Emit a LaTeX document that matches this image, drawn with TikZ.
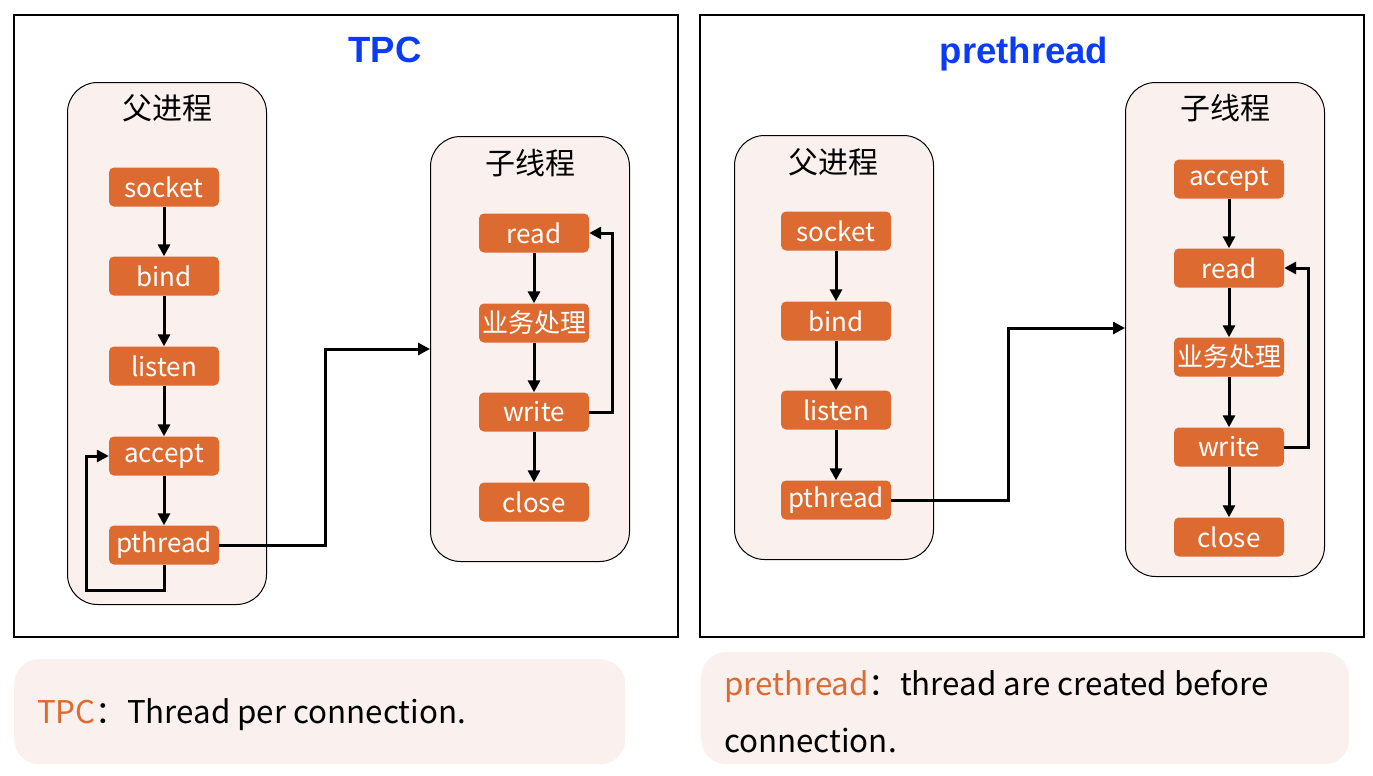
\documentclass[tikz,border=0pt]{standalone}
\usepackage{fontspec}
\setmainfont{Noto Sans CJK SC}
\newfontfamily\titlefont{Liberation Sans}
\usetikzlibrary{arrows.meta}
\definecolor{org}{HTML}{DD6A30}
\definecolor{pinkbg}{HTML}{FAF0EE}
\definecolor{ttl}{HTML}{0A3BF5}
\begin{document}
\begin{tikzpicture}[x=1pt,y=-1pt,
  frame/.style={draw, line width=2pt, minimum width=664pt, minimum height=622pt, anchor=north west, inner sep=0},
  cont/.style={draw, fill=pinkbg, rounded corners=30pt, line width=1pt, minimum width=199pt, inner sep=0, anchor=north west},
  op/.style={fill=org, rounded corners=5pt, minimum width=110pt, minimum height=39pt, text=white, font=\fontsize{26}{28}\selectfont, inner sep=0},
  ttlnode/.style={text=ttl, font=\titlefont\bfseries\fontsize{36.5}{40}\selectfont, inner sep=0},
  lbl/.style={font=\fontsize{30}{32}\selectfont, inner sep=0},
  note/.style={fill=pinkbg, rounded corners=25pt, inner sep=0, anchor=north west},
  notetext/.style={font=\fontsize{31.3}{57}\selectfont, inner sep=0, anchor=west, align=left},
  flow/.style={line width=3pt, -{Triangle[length=12pt,width=12pt]}}
]
\useasboundingbox (0,0) rectangle (1373,776);
\fill[white] (0,0) rectangle (1373,776);

% frames
\node[frame] (fl) at (13,14) {};
\node[frame] (fr) at (699,14) {};
\node[ttlnode] (tl) at (385,50) {TPC};
\node[ttlnode] (tr) at (1024,54) {prethread};

% ---------- left panel ----------
\node[cont, minimum height=522pt] (lp) at (67,82) {};
\node[lbl] (lpl) at (167,108) {父进程};
\node[op] (s1) at (164,187) {socket};
\node[op] (b1) at (164,276) {bind};
\node[op] (l1) at (164,366) {listen};
\node[op] (a1) at (164,456) {accept};
\node[op] (p1) at (164,545) {pthread};

\node[cont, minimum height=425pt] (lc) at (430,136) {};
\node[lbl] (lcl) at (530,163) {子线程};
\node[op] (r1) at (534,233) {read};
\node[op] (y1) at (534,323) {业务处理};
\node[op] (w1) at (534,412) {write};
\node[op] (c1) at (534,502) {close};

\draw[flow] (s1) -- (b1);
\draw[flow] (b1) -- (l1);
\draw[flow] (l1) -- (a1);
\draw[flow] (a1) -- (p1);
\coordinate (lb) at (86,590);
\draw[flow] (p1.south) |- (lb) |- (a1.west);
\coordinate (m1) at (325,349);
\draw[flow] (p1.east) -| (m1) -- (m1 -| lc.west);

\draw[flow] (r1) -- (y1);
\draw[flow] (y1) -- (w1);
\draw[flow] (w1) -- (c1);
\coordinate (lp1) at (612,233);
\draw[flow] (w1.east) -| (lp1) -- (r1.east);

% ---------- right panel ----------
\node[cont, minimum height=424pt] (rp) at (734,135) {};
\node[lbl] (rpl) at (833,162) {父进程};
\node[op] (s2) at (836,231) {socket};
\node[op] (b2) at (836,321) {bind};
\node[op] (l2) at (836,410) {listen};
\node[op] (p2) at (836,500) {pthread};

\node[cont, minimum height=494pt] (rc) at (1125,82) {};
\node[lbl] (rcl) at (1225,108) {子线程};
\node[op] (a2) at (1229,179) {accept};
\node[op] (r2) at (1229,268) {read};
\node[op] (y2) at (1229,357) {业务处理};
\node[op] (w2) at (1229,447) {write};
\node[op] (c2) at (1229,537) {close};

\draw[flow] (s2) -- (b2);
\draw[flow] (b2) -- (l2);
\draw[flow] (l2) -- (p2);
\coordinate (m2) at (1008,328);
\draw[flow] (p2.east) -| (m2) -- (m2 -| rc.west);

\draw[flow] (a2) -- (r2);
\draw[flow] (r2) -- (y2);
\draw[flow] (y2) -- (w2);
\draw[flow] (w2) -- (c2);
\coordinate (lp2) at (1308,268);
\draw[flow] (w2.east) -| (lp2) -- (r2.east);

% ---------- notes ----------
\node[note, minimum width=611pt, minimum height=105pt] (n1) at (14,659) {};
\node[notetext] (n1t) at (37,715) {\textcolor{org}{TPC}：Thread per connection.};
\node[note, minimum width=648pt, minimum height=112pt] (n2) at (701,652) {};
\node[notetext] (n2t) at (724,712) {\textcolor{org}{prethread}：thread are created before\\connection.};
\end{tikzpicture}
\end{document}
